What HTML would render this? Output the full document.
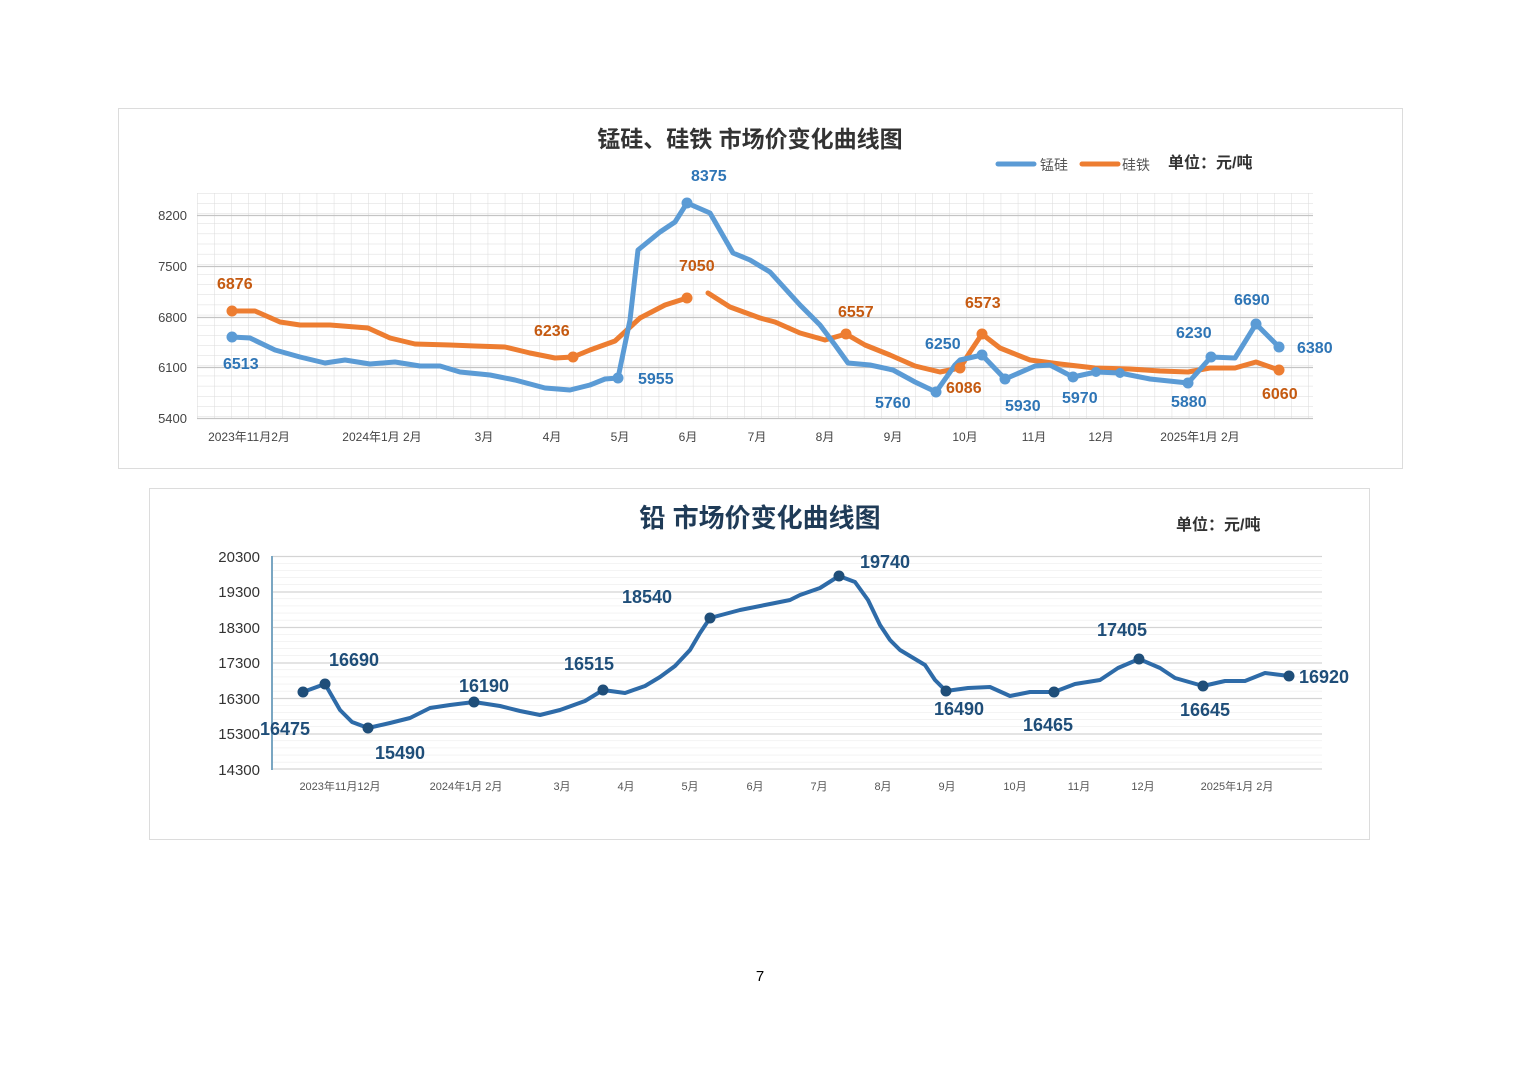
<!DOCTYPE html>
<html><head><meta charset="utf-8"><style>
html,body{margin:0;padding:0;background:#fff;}
body{width:1520px;height:1074px;position:relative;overflow:hidden;font-family:"Liberation Sans","Noto Sans CJK SC",sans-serif;}
svg{position:absolute;left:0;top:0;}
</style></head><body>
<svg width="1520" height="1074" viewBox="0 0 1520 1074" xmlns="http://www.w3.org/2000/svg" font-family="Liberation Sans, Noto Sans CJK SC, sans-serif">
<defs>
<pattern id="g1" x="197" y="193" width="17.1" height="10.15" patternUnits="userSpaceOnUse">
<path d="M0 0V10.15M0 0H17.1" stroke="#dadada" stroke-width="1" fill="none"/>
</pattern>
<pattern id="g2" x="272" y="556" width="1050" height="7.1" patternUnits="userSpaceOnUse">
<path d="M0 0H1050" stroke="#e6e6e6" stroke-width="1" fill="none"/>
</pattern>
</defs>
<rect x="118.5" y="108.5" width="1284" height="360" fill="#fff" stroke="#dcdcdc"/>
<text x="750" y="147" font-size="23" font-weight="bold" text-anchor="middle" fill="#333">锰硅、硅铁 市场价变化曲线图</text>
<line x1="998" y1="164" x2="1034" y2="164" stroke="#5b9bd5" stroke-width="5" stroke-linecap="round"/>
<text x="1040" y="170" font-size="14" fill="#555">锰硅</text>
<line x1="1082" y1="164" x2="1118" y2="164" stroke="#ed7d31" stroke-width="5" stroke-linecap="round"/>
<text x="1122" y="170" font-size="14" fill="#555">硅铁</text>
<text x="1168" y="168" font-size="16" font-weight="bold" fill="#333">单位：元/吨</text>
<rect x="197" y="193" width="1116" height="225" fill="url(#g1)"/>
<g stroke="#c4c4c4" stroke-width="1.2">
<line x1="197" y1="215.5" x2="1313" y2="215.5"/><line x1="197" y1="266.5" x2="1313" y2="266.5"/>
<line x1="197" y1="317.5" x2="1313" y2="317.5"/><line x1="197" y1="367.5" x2="1313" y2="367.5"/>
<line x1="197" y1="418.5" x2="1313" y2="418.5"/>
</g>
<g font-size="13" fill="#444" text-anchor="end">
<text x="187" y="220">8200</text><text x="187" y="271">7500</text><text x="187" y="322">6800</text><text x="187" y="372">6100</text><text x="187" y="423">5400</text>
</g>
<g font-size="12" fill="#444" text-anchor="middle">
<text x="249" y="441">2023年11月2月</text><text x="382" y="441">2024年1月 2月</text><text x="484" y="441">3月</text><text x="552" y="441">4月</text><text x="620" y="441">5月</text><text x="688" y="441">6月</text><text x="757" y="441">7月</text><text x="825" y="441">8月</text><text x="893" y="441">9月</text><text x="965" y="441">10月</text><text x="1034" y="441">11月</text><text x="1101" y="441">12月</text><text x="1200" y="441">2025年1月 2月</text>
</g>
<g fill="none" stroke-width="5" stroke-linejoin="round" stroke-linecap="round">
<polyline stroke="#ed7d31" points="232,311 255,311 280,322 300,325 330,325 368,328 390,338 415,344 450,345 475,346 505,347 530,353 555,358 573,357 590,350 615,341 640,318 665,305 687,298"/>
<polyline stroke="#ed7d31" points="708,293 730,307 760,318 775,322 800,333 825,340 846,334 865,345 890,355 915,366 940,372 960,368 970,352 982,334 1000,348 1030,360 1060,364 1095,368 1130,369 1160,371 1188,372 1210,368 1235,368 1256,362 1279,370"/>
<polyline stroke="#5b9bd5" points="232,337 250,338 275,350 300,357 325,363 345,360 370,364 395,362 420,366 440,366 460,372 490,375 515,380 545,388 570,390 590,385 605,379 618,378 630,320 638,250 660,232 675,222 687,203 710,213 733,253 750,260 770,272 800,305 820,325 835,345 848,363 870,365 893,370 915,382 936,392 955,365 960,360 982,355 1005,379 1035,366 1050,365 1073,377 1096,372 1120,373 1150,379 1188,383 1211,357 1235,358 1256,324 1279,347"/>
</g>
<g fill="#5b9bd5"><circle cx="232" cy="337" r="5.5"/><circle cx="618" cy="378" r="5.5"/><circle cx="687" cy="203" r="5.5"/><circle cx="936" cy="392" r="5.5"/><circle cx="982" cy="355" r="5.5"/><circle cx="1005" cy="379" r="5.5"/><circle cx="1073" cy="377" r="5.5"/><circle cx="1096" cy="372" r="5"/><circle cx="1120" cy="373" r="5"/><circle cx="1188" cy="383" r="5.5"/><circle cx="1211" cy="357" r="5.5"/><circle cx="1256" cy="324" r="5.5"/><circle cx="1279" cy="347" r="5.5"/></g>
<g fill="#ed7d31"><circle cx="232" cy="311" r="5.5"/><circle cx="573" cy="357" r="5.5"/><circle cx="687" cy="298" r="5.5"/><circle cx="846" cy="334" r="5.5"/><circle cx="960" cy="368" r="5.5"/><circle cx="982" cy="334" r="5.5"/><circle cx="1279" cy="370" r="5.5"/></g>
<g font-size="16" font-weight="bold" fill="#2e75b6">
<text x="223" y="369">6513</text><text x="638" y="384">5955</text><text x="691" y="181">8375</text><text x="875" y="408">5760</text><text x="925" y="349">6250</text><text x="1005" y="411">5930</text><text x="1062" y="403">5970</text><text x="1171" y="407">5880</text><text x="1176" y="338">6230</text><text x="1234" y="305">6690</text><text x="1297" y="353">6380</text>
</g>
<g font-size="16" font-weight="bold" fill="#c55a11">
<text x="217" y="289">6876</text><text x="534" y="336">6236</text><text x="679" y="271">7050</text><text x="838" y="317">6557</text><text x="946" y="393">6086</text><text x="965" y="308">6573</text><text x="1262" y="399">6060</text>
</g>
<rect x="149.5" y="488.5" width="1220" height="351" fill="#fff" stroke="#dcdcdc"/>
<text x="760" y="527" font-size="26" font-weight="bold" text-anchor="middle" fill="#1f3b57">铅 市场价变化曲线图</text>
<text x="1176" y="530" font-size="16" font-weight="bold" fill="#333">单位：元/吨</text>
<rect x="272" y="556" width="1050" height="213" fill="url(#g2)"/>
<g stroke="#d4d4d4" stroke-width="1.3">
<line x1="272" y1="556.5" x2="1322" y2="556.5"/><line x1="272" y1="592" x2="1322" y2="592"/><line x1="272" y1="627.5" x2="1322" y2="627.5"/><line x1="272" y1="663" x2="1322" y2="663"/><line x1="272" y1="698.5" x2="1322" y2="698.5"/><line x1="272" y1="734" x2="1322" y2="734"/><line x1="272" y1="769" x2="1322" y2="769"/>
</g>
<line x1="272" y1="556" x2="272" y2="770" stroke="#7aa6c2" stroke-width="2"/>
<g font-size="15" fill="#333" text-anchor="end">
<text x="260" y="562">20300</text><text x="260" y="597">19300</text><text x="260" y="633">18300</text><text x="260" y="668">17300</text><text x="260" y="704">16300</text><text x="260" y="739">15300</text><text x="260" y="775">14300</text>
</g>
<g font-size="11" fill="#555" text-anchor="middle">
<text x="340" y="790">2023年11月12月</text><text x="466" y="790">2024年1月  2月</text><text x="562" y="790">3月</text><text x="626" y="790">4月</text><text x="690" y="790">5月</text><text x="755" y="790">6月</text><text x="819" y="790">7月</text><text x="883" y="790">8月</text><text x="947" y="790">9月</text><text x="1015" y="790">10月</text><text x="1079" y="790">11月</text><text x="1143" y="790">12月</text><text x="1237" y="790">2025年1月  2月</text>
</g>
<polyline fill="none" stroke="#2e6ba8" stroke-width="4" stroke-linejoin="round" stroke-linecap="round" points="303,692 325,684 340,710 352,722 368,728 390,723 410,718 430,708 450,705 474,702 500,706 520,711 540,715 560,710 585,701 603,690 625,693 645,686 660,677 675,666 690,650 700,633 710,618 740,610 770,604 790,600 800,595 820,588 839,576 855,582 868,600 880,625 890,640 900,650 925,665 935,680 946,691 968,688 990,687 1010,696 1030,692 1054,692 1075,684 1100,680 1118,668 1139,659 1160,668 1175,678 1203,686 1225,681 1245,681 1265,673 1289,676"/>
<g fill="#1f4e79"><circle cx="303" cy="692" r="5.5"/><circle cx="325" cy="684" r="5.5"/><circle cx="368" cy="728" r="5.5"/><circle cx="474" cy="702" r="5.5"/><circle cx="603" cy="690" r="5.5"/><circle cx="710" cy="618" r="5.5"/><circle cx="839" cy="576" r="5.5"/><circle cx="946" cy="691" r="5.5"/><circle cx="1054" cy="692" r="5.5"/><circle cx="1139" cy="659" r="5.5"/><circle cx="1203" cy="686" r="5.5"/><circle cx="1289" cy="676" r="5.5"/></g>
<g font-size="18" font-weight="bold" fill="#1f4e79">
<text x="260" y="735">16475</text><text x="329" y="666">16690</text><text x="375" y="759">15490</text><text x="459" y="692">16190</text><text x="564" y="670">16515</text><text x="622" y="603">18540</text><text x="860" y="568">19740</text><text x="934" y="715">16490</text><text x="1023" y="731">16465</text><text x="1097" y="636">17405</text><text x="1180" y="716">16645</text><text x="1299" y="683">16920</text>
</g>
<text x="760" y="981" font-size="15" text-anchor="middle" fill="#000">7</text>
</svg>
</body></html>
